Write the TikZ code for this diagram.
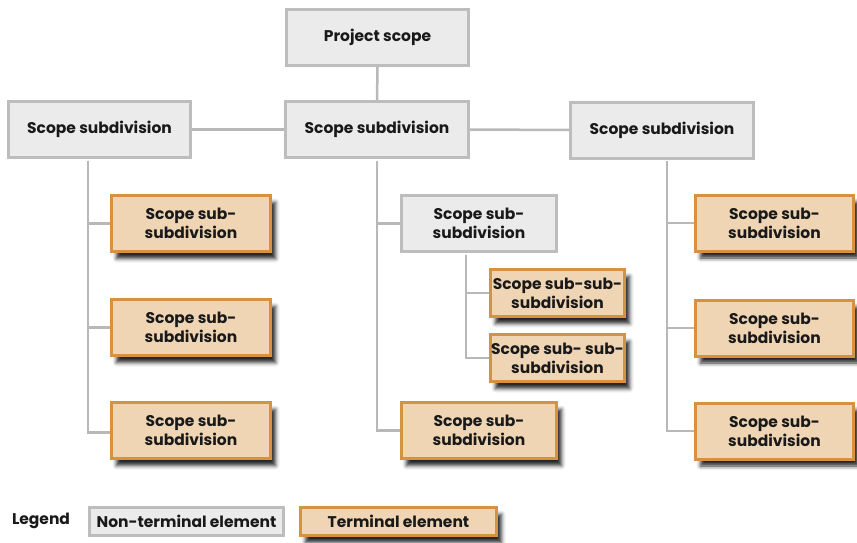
\documentclass[tikz,border=0pt]{standalone}
\usepackage{fontspec}
\setmainfont{Poppins}
\usetikzlibrary{shadows.blur}
\definecolor{ntfill}{HTML}{EBEBEB}
\definecolor{ntdraw}{HTML}{BDBDBD}
\definecolor{tfill}{HTML}{F0D5B5}
\definecolor{tdraw}{HTML}{D8913F}
\definecolor{conn}{HTML}{B8B8B8}
\tikzset{
  boxtext/.style={font=\fontsize{15.5}{19}\selectfont\bfseries, text=black!90, align=center, inner sep=0pt},
  ntbox/.style={boxtext, rectangle, fill=ntfill, draw=ntdraw, line width=3pt},
  tbox/.style={boxtext, rectangle, fill=tfill, draw=tdraw, line width=3pt,
    blur shadow={shadow xshift=5pt, shadow yshift=-7pt, shadow opacity=85, shadow blur radius=4pt}},
  conline/.style={draw=conn, line width=2.5pt},
}
\begin{document}
\begin{tikzpicture}[x=1pt,y=-1pt]
\useasboundingbox (0,0) rectangle (857,543);
% top level
\node[ntbox, minimum width=182pt, minimum height=56pt] (ps) at (377.5,37.5) {Project scope};
\node[ntbox, minimum width=182pt, minimum height=56pt] (s1) at (99.5,129.5) {Scope subdivision};
\node[ntbox, minimum width=183pt, minimum height=56pt] (s2) at (377,129.5) {Scope subdivision};
\node[ntbox, minimum width=183pt, minimum height=56pt] (s3) at (662,130) {Scope subdivision};
% left column
\node[tbox, minimum width=159pt, minimum height=56pt] (l1) at (191,223.5) {Scope sub-\\subdivision};
\node[tbox, minimum width=159pt, minimum height=56pt] (l2) at (191,327.5) {Scope sub-\\subdivision};
\node[tbox, minimum width=159pt, minimum height=56pt] (l3) at (191,430.5) {Scope sub-\\subdivision};
% middle column
\node[ntbox, minimum width=155pt, minimum height=56pt] (m1) at (479,223.5) {Scope sub-\\subdivision};
\node[tbox, minimum width=134pt, minimum height=47pt] (mm1) at (557.5,293) {Scope sub-sub-\\subdivision};
\node[tbox, minimum width=134pt, minimum height=47pt] (mm2) at (557.5,358) {Scope sub- sub-\\subdivision};
\node[tbox, minimum width=155pt, minimum height=56pt] (m2) at (479,430.5) {Scope sub-\\subdivision};
% right column
\node[tbox, minimum width=158pt, minimum height=56pt] (r1) at (774.5,223) {Scope sub-\\subdivision};
\node[tbox, minimum width=158pt, minimum height=56pt] (r2) at (774.5,328) {Scope sub-\\subdivision};
\node[tbox, minimum width=158pt, minimum height=56pt] (r3) at (774.5,431) {Scope sub-\\subdivision};
% legend
\node[boxtext, anchor=center] (leg) at (41,521) {Legend};
\node[ntbox, minimum width=194pt, minimum height=28pt] (lnt) at (186.5,521.5) {Non-terminal element};
\node[tbox, minimum width=196pt, minimum height=28pt] (lt) at (398.5,521.5) {Terminal element};
% connector anchors
\coordinate (a1) at (88,160.5);
\coordinate (a2) at (377,160.5);
\coordinate (a3) at (667,161);
\coordinate (am) at (466,254.5);
% connectors
\draw[conline] (ps.south) -- (s2.north);
\draw[conline] (s1.east) -- (s2.west);
\draw[conline] (s2.east) -- (s3.west);
\draw[conline] (a1) |- (l1.west);
\draw[conline] (a1) |- (l2.west);
\draw[conline] (a1) |- ([yshift=-2pt]l3.west);
\draw[conline] (a2) |- (m1.west);
\draw[conline] (a2) |- (m2.west);
\draw[conline] (am) |- (mm1.west);
\draw[conline] (am) |- (mm2.west);
\draw[conline] (a3) |- (r1.west);
\draw[conline] (a3) |- (r2.west);
\draw[conline] (a3) |- (r3.west);
\end{tikzpicture}
\end{document}
